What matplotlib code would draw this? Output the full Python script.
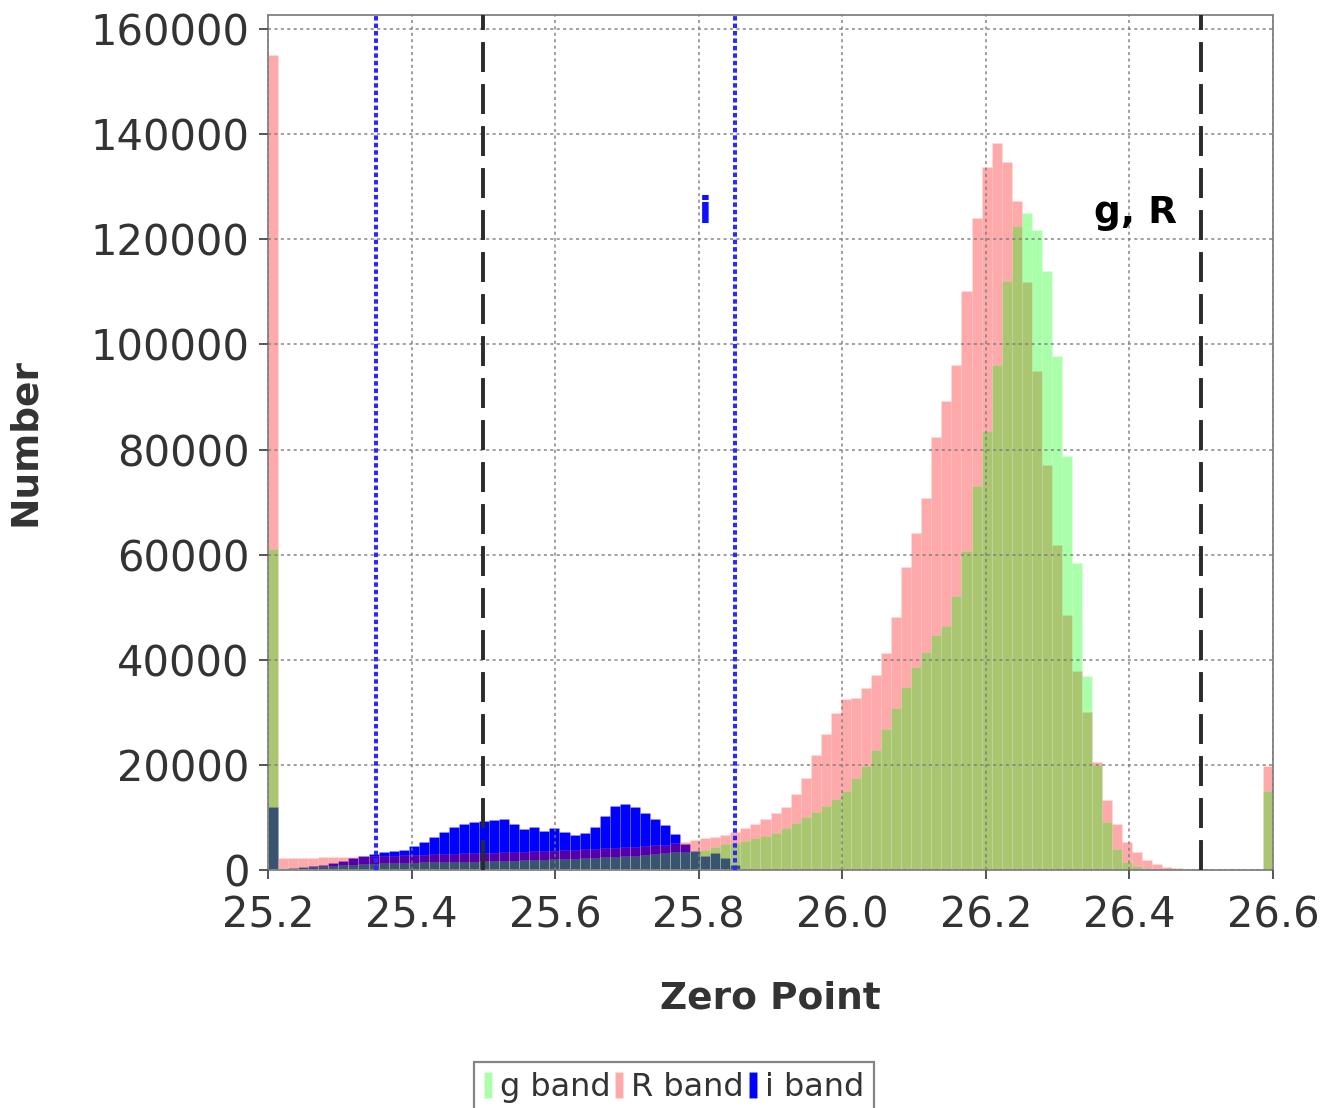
"""
Zero point histogram for g, R and i band frames
"""

import numpy as np
import matplotlib
matplotlib.use("Agg")
import matplotlib.pyplot as plt

# Histogram counts, bins of 0.014 mag from 25.2 to 26.6
# (first and last bins collect everything outside the range)
bin_start = 25.2
bin_width = 0.014

i_band = [12000, 200, 350, 500, 750, 1000, 1300, 1700, 2200, 2700,
          3000, 3500, 3700, 3900, 4500, 5300, 6200, 7300, 8100, 8800,
          9100, 9300, 9500, 9700, 8700, 7750, 8250, 7500, 7900, 7150,
          6650, 7100, 8250, 10300, 12200, 12500, 12000, 10800, 9650, 8650,
          6900, 5000, 3700, 2700, 3300, 2200, 950, 150, 0, 0,
          0, 0, 0, 0, 0, 0, 0, 0, 0, 0,
          0, 0, 0, 0, 0, 0, 0, 0, 0, 0,
          0, 0, 0, 0, 0, 0, 0, 0, 0, 0,
          0, 0, 0, 0, 0, 0, 0, 0, 0, 0,
          0, 0, 0, 0, 0, 0, 0, 0, 0, 0]

R_band = [155000, 2200, 2250, 2300, 2350, 2400, 2450, 2500, 2550, 2600,
          2650, 2700, 2750, 2800, 2850, 2900, 3000, 3050, 3100, 3150,
          3200, 3250, 3300, 3400, 3450, 3500, 3600, 3650, 3700, 3800,
          3850, 3950, 4000, 4100, 4200, 4300, 4400, 4550, 4700, 4850,
          5050, 5300, 5700, 6000, 6300, 6700, 7300, 8000, 8700, 9700,
          10800, 12000, 14500, 17600, 21800, 25800, 29800, 32600, 32800, 34600,
          37100, 41200, 48100, 57700, 64100, 70700, 82300, 89200, 96000, 110100,
          124000, 133700, 138300, 134800, 127300, 111800, 95000, 77000, 61800, 48600,
          37900, 30100, 20600, 13300, 8700, 5400, 3400, 1900, 1100, 650,
          450, 250, 150, 100, 60, 40, 20, 10, 0, 19700]

g_band = [61000, 300, 400, 500, 600, 700, 800, 900, 1000, 1100,
          1200, 1250, 1300, 1350, 1400, 1450, 1500, 1500, 1550, 1550,
          1600, 1650, 1700, 1750, 1800, 1850, 1900, 1950, 2000, 2050,
          2100, 2200, 2300, 2400, 2500, 2600, 2700, 2850, 3000, 3200,
          3400, 3500, 3650, 3900, 4400, 4900, 5200, 5500, 6000, 6500,
          7000, 7900, 9000, 10000, 11100, 12200, 13500, 15100, 17500, 19700,
          22800, 26800, 30900, 34900, 38700, 41500, 44700, 46500, 52200, 60700,
          73100, 83500, 96100, 112000, 122600, 125100, 121800, 113900, 97900, 78800,
          58500, 36900, 19900, 9100, 4000, 1600, 700, 300, 150, 80,
          50, 30, 20, 0, 0, 0, 0, 0, 0, 15100]

# Zero point cut limits
i_limits = [25.35, 25.85]
gR_limits = [25.5, 26.5]

x_ticks = [25.2, 25.4, 25.6, 25.8, 26.0, 26.2, 26.4, 26.6]
y_ticks = [0, 20000, 40000, 60000, 80000, 100000, 120000, 140000, 160000]

text_col = '#333333'
frame_col = '#8a8a8a'

fig = plt.figure(figsize=(13.23, 11.08), dpi=100)
ax = fig.add_axes([0.2026, 0.2148, 0.7596, 0.7717])

left = bin_start + bin_width * np.arange(len(g_band))
edge = dict(linewidth=0.6, edgecolor=(1, 1, 1, 0.12))

# i band opaque underneath, R and g translucent on top
bi = ax.bar(left, i_band, width=bin_width, align='edge', color=(0, 0, 1.0), zorder=1, **edge)
bR = ax.bar(left, R_band, width=bin_width, align='edge', color=(1.0, 0, 0, 1/3), zorder=1.1, **edge)
bg = ax.bar(left, g_band, width=bin_width, align='edge', color=(0, 1.0, 0, 1/3), zorder=1.2, **edge)

for x in i_limits:
    ax.axvline(x, color='#2a2aff', linewidth=2.9, linestyle=(0, (1.1, 0.75)), zorder=3)
for x in gR_limits:
    ax.axvline(x, color='#2b2b2b', linewidth=2.8, linestyle=(0, (7.7, 3.1)), zorder=3)

ax.text(25.809, 125000, 'i', color='#1010ff', fontsize=27, fontweight='bold',
        ha='center', va='center', zorder=4)
ax.text(26.408, 125000, 'g, R', color='black', fontsize=27, fontweight='bold',
        ha='center', va='center', zorder=4)

ax.set_xlim(25.2, 26.6)
ax.set_ylim(0, 162700)
ax.set_xticks(x_ticks)
ax.set_xticklabels([f'{t:.1f}' for t in x_ticks])
ax.set_yticks(y_ticks)
ax.set_yticklabels([str(t) for t in y_ticks])

ax.set_axisbelow(False)
ax.grid(True, color='#7a7a7a', linewidth=1.1, linestyle=(0, (2, 2.2)), alpha=0.9)

for s in ax.spines.values():
    s.set_color(frame_col)
    s.set_linewidth(1.4)

ax.tick_params(axis='both', labelsize=30, labelcolor=text_col, color='#555555',
               direction='out', length=6.5, width=1.4)
ax.tick_params(axis='x', pad=11)
ax.tick_params(axis='y', pad=7)

ax.set_xlabel('Zero Point', fontsize=27, fontweight='bold', color=text_col, labelpad=32)
ax.set_ylabel('Number', fontsize=27, fontweight='bold', color=text_col, labelpad=34)

leg = fig.legend([bg, bR, bi], ['g band', 'R band', 'i band'], ncol=3,
                 loc='upper center', bbox_to_anchor=(674 / 1323, 1 - 1062 / 1108),
                 fontsize=23, frameon=True, fancybox=False, handlelength=0.25,
                 handleheight=0.9, handletextpad=0.25, columnspacing=0.15,
                 borderpad=0.3, borderaxespad=0)
leg.get_frame().set_edgecolor('#666666')
leg.get_frame().set_linewidth(1.6)
for t in leg.get_texts():
    t.set_color(text_col)

fig.savefig('out.png', dpi=100)
plt.close(fig)
